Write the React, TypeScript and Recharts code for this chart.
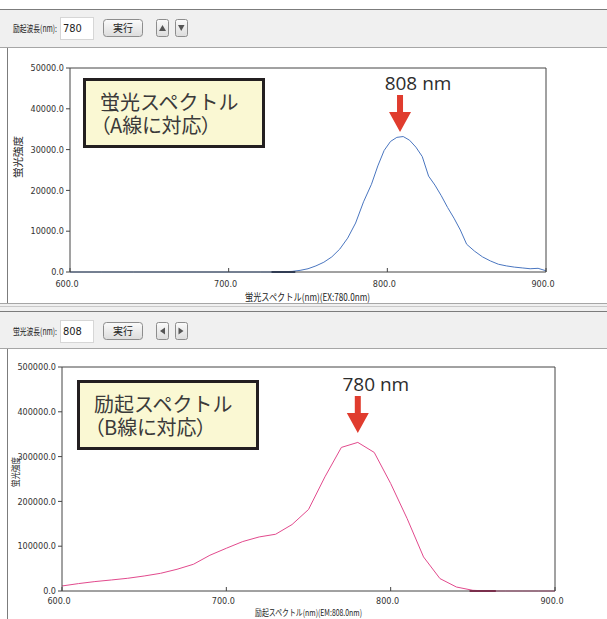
// 蛍光スペクトル / 励起スペクトルの2画面キャプチャを再現
import { LineChart, Line, XAxis, YAxis, ReferenceDot } from 'recharts'

// 蛍光スペクトル (EX:780.0nm)
const fluoWl = [600, 620, 640, 660, 680, 700, 720, 730, 740, 745, 750, 755, 760, 765, 770, 775, 780, 785, 790, 794, 798, 802, 806, 810, 814, 818, 822, 826, 830, 834, 838, 842, 846, 850, 855, 860, 865, 870, 875, 880, 885, 890, 895, 900]
const fluoVal = [0, 0, 0, 0, 0, 0, 0, 0, 150, 400, 800, 1500, 2400, 3700, 5600, 8300, 12000, 17200, 21500, 26000, 29800, 32000, 33000, 33200, 32300, 30600, 28300, 23500, 21300, 18700, 15800, 13200, 10300, 6800, 5100, 3700, 2700, 1900, 1500, 1200, 1000, 800, 900, 300]
// 暗色で重なっている区間
const fluoBaseWl = [727, 742]
const fluoBaseVal = [0, 0]

// 励起スペクトル (EM:808.0nm)
const exWl = [600, 610, 620, 630, 640, 650, 660, 670, 680, 690, 700, 710, 720, 730, 740, 750, 760, 770, 780, 790, 800, 810, 820, 830, 840, 850, 860, 870, 880, 890, 900]
const exVal = [11200, 16500, 21000, 24600, 28400, 33500, 39500, 48500, 59700, 79800, 95400, 110400, 120700, 126700, 148400, 181900, 254800, 320500, 331700, 309300, 240000, 161800, 76000, 27700, 8900, 1500, 0, 0, 0, 0, 0]
const exBaseWl = [848, 864]
const exBaseVal = [0, 0]

const xTicks = [600, 700, 800, 900]
const fluoYTicks = [0, 10000, 20000, 30000, 40000, 50000]
const exYTicks = [0, 100000, 200000, 300000, 400000, 500000]

const AXIS = '#444'
const RED = '#e03c2e'
const CJK = "'Noto Sans CJK JP', sans-serif"
const NARROW = "'Liberation Sans Narrow', 'DejaVu Sans Condensed', sans-serif"

const toRows = (xs: number[], ys: number[]) => xs.map((wl, i) => ({ wl, v: ys[i] }))

function PeakArrow(props: any) {
  const { cx, cy, text } = props
  return (
    <g>
      <path
        d={`M${cx - 3} ${cy - 37} h6 v17 h8 L${cx} ${cy} L${cx - 11} ${cy - 20} h8 Z`}
        fill={RED}
      />
      <text
        x={cx + 18}
        y={cy - 42}
        textAnchor="middle"
        fontFamily="'Open Sans', 'Noto Sans', sans-serif"
        fontSize={19}
        fill="#2d2d2d"
      >
        {text}
      </text>
    </g>
  )
}

interface PanelProps {
  top: number
  height: number
  margin: { top: number; right: number; bottom: number; left: number }
  yWidth: number
  xHeight: number
  tickGap: number
  rows: { wl: number; v: number }[]
  baseRows: { wl: number; v: number }[]
  yTicks: number[]
  color: string
  baseColor: string
  peakWl: number
  peakVal: number
  peakText: string
}

function SpectrumPanel(p: PanelProps) {
  const yMax = p.yTicks[p.yTicks.length - 1]
  const tickStyle = { fontSize: 9, fill: '#333', fontFamily: NARROW }
  return (
    <div style={{ position: 'absolute', left: 0, top: p.top }}>
      <LineChart width={607} height={p.height} margin={p.margin}>
        <XAxis
          xAxisId="b"
          dataKey="wl"
          type="number"
          domain={[600, 900]}
          ticks={xTicks}
          height={p.xHeight}
          tickSize={-4}
          tickMargin={p.tickGap}
          tickFormatter={(v: number) => v.toFixed(1)}
          tick={{ ...tickStyle, dx: -3 }}
          stroke={AXIS}
          tickLine={{ stroke: AXIS }}
        />
        <XAxis
          xAxisId="t"
          orientation="top"
          type="number"
          domain={[600, 900]}
          ticks={xTicks}
          height={1}
          tickSize={-4}
          tick={false}
          stroke={AXIS}
          tickLine={{ stroke: AXIS }}
        />
        <YAxis
          yAxisId="l"
          type="number"
          domain={[0, yMax]}
          ticks={p.yTicks}
          width={p.yWidth}
          tickSize={4}
          tickMargin={2}
          tickFormatter={(v: number) => v.toFixed(1)}
          tick={tickStyle}
          stroke={AXIS}
          tickLine={{ stroke: AXIS }}
        />
        <YAxis
          yAxisId="r"
          orientation="right"
          type="number"
          domain={[0, yMax]}
          ticks={p.yTicks}
          width={1}
          tickSize={-4}
          tick={false}
          stroke={AXIS}
          tickLine={{ stroke: AXIS }}
        />
        <Line
          xAxisId="b"
          yAxisId="l"
          data={p.rows}
          dataKey="v"
          type="linear"
          stroke={p.color}
          strokeWidth={1}
          dot={false}
          isAnimationActive={false}
        />
        <Line
          xAxisId="b"
          yAxisId="l"
          data={p.baseRows}
          dataKey="v"
          type="linear"
          stroke={p.baseColor}
          strokeWidth={2}
          dot={false}
          isAnimationActive={false}
        />
        <ReferenceDot
          xAxisId="b"
          yAxisId="l"
          x={p.peakWl}
          y={p.peakVal}
          shape={(s: any) => <PeakArrow {...s} text={p.peakText} />}
        />
      </LineChart>
    </div>
  )
}

function HeaderBar({ y, label, value, arrows }: { y: number; label: string; value: string; arrows: 'ud' | 'lr' }) {
  const tri1 = arrows === 'ud' ? 'M159 31 L162.5 25 L166 31 Z' : 'M165 24.5 L165 31.5 L160 28 Z'
  const tri2 = arrows === 'ud' ? 'M178 25 L184.5 25 L181.25 31 Z' : 'M178.5 24.5 L178.5 31.5 L183.5 28 Z'
  return (
    <g transform={`translate(0 ${y})`}>
      <text x={13} y={32} fontFamily={CJK} fontSize={9.5} fill="#222" textLength={44} lengthAdjust="spacingAndGlyphs">
        {label}
      </text>
      <rect x={60.5} y={17.5} width={33} height={22} fill="#fff" stroke="#d6d6d6" />
      <text x={63} y={32} fontFamily={NARROW} fontSize={11} fill="#222">
        {value}
      </text>
      <rect x={103.5} y={19.5} width={39} height={17} rx={3} fill="url(#btn)" stroke="#8d8d8d" />
      <text x={123} y={32} textAnchor="middle" fontFamily={CJK} fontSize={10} fill="#222">
        実行
      </text>
      <rect x={156.5} y={19.5} width={12} height={17} rx={2} fill="url(#btn)" stroke="#8d8d8d" />
      <rect x={175.5} y={19.5} width={12} height={17} rx={2} fill="url(#btn)" stroke="#8d8d8d" />
      <path d={tri1} fill="#555" />
      <path d={tri2} fill="#555" />
    </g>
  )
}

function NoteBox({ left, top, line1, line2 }: { left: number; top: number; line1: string; line2: string }) {
  return (
    <div
      style={{
        position: 'absolute',
        left,
        top,
        width: 182,
        height: 70,
        boxSizing: 'border-box',
        border: '3px solid #231f20',
        background: '#faf8d3',
        padding: '9px 0 0 14px',
        fontFamily: CJK,
        fontSize: 20,
        lineHeight: '23px',
        color: '#3a3a3a',
        whiteSpace: 'nowrap',
      }}
    >
      <div>{line1}</div>
      <div style={{ fontFeatureSettings: '"palt"' }}>{line2}</div>
    </div>
  )
}

export default function App() {
  return (
    <div style={{ position: 'absolute', left: 0, top: 0, width: 607, height: 619, overflow: 'hidden', background: '#fff' }}>
      <svg width={607} height={619} style={{ position: 'absolute', left: 0, top: 0 }}>
        <defs>
          <linearGradient id="btn" x1="0" y1="0" x2="0" y2="1">
            <stop offset="0" stopColor="#fbfbfb" />
            <stop offset="1" stopColor="#dcdcdc" />
          </linearGradient>
        </defs>
        <rect x={0} y={0} width={607} height={619} fill="#fff" />
        {/* 上段ウィンドウ */}
        <rect x={0} y={10} width={607} height={37} fill="#f0f0f0" />
        <line x1={0} x2={607} y1={9.5} y2={9.5} stroke="#7c7c7c" />
        <line x1={0} x2={607} y1={47.5} y2={47.5} stroke="#a6a6a6" />
        <line x1={7.5} x2={7.5} y1={48} y2={303} stroke="#7c7c7c" />
        <HeaderBar y={0} label="励起波長(nm):" value="780" arrows="ud" />
        {/* 下段ウィンドウ */}
        <rect x={0} y={303} width={607} height={45} fill="#f0f0f0" />
        <line x1={0} x2={607} y1={303.5} y2={303.5} stroke="#a6a6a6" />
        <line x1={0} x2={607} y1={306.5} y2={306.5} stroke="#c8c8c8" />
        <line x1={0} x2={607} y1={311.5} y2={311.5} stroke="#7c7c7c" />
        <line x1={0} x2={607} y1={348.5} y2={348.5} stroke="#a6a6a6" />
        <line x1={7.5} x2={7.5} y1={349} y2={619} stroke="#7c7c7c" />
        <HeaderBar y={303} label="蛍光波長(nm):" value="808" arrows="lr" />
        {/* 軸タイトル */}
        <text transform="translate(22 157) rotate(-90)" textAnchor="middle" fontFamily={CJK} fontSize={10} fill="#222" textLength={42} lengthAdjust="spacingAndGlyphs">
          蛍光強度
        </text>
        <text x={307.5} y={301} textAnchor="middle" fontFamily={CJK} fontSize={10} fill="#222" textLength={125} lengthAdjust="spacingAndGlyphs">
          蛍光スペクトル(nm)(EX:780.0nm)
        </text>
        <text transform="translate(19 472) rotate(-90)" textAnchor="middle" fontFamily={CJK} fontSize={9} fill="#222" textLength={30} lengthAdjust="spacingAndGlyphs">
          蛍光強度
        </text>
        <text x={308.5} y={616} textAnchor="middle" fontFamily={CJK} fontSize={9} fill="#222" textLength={107} lengthAdjust="spacingAndGlyphs">
          励起スペクトル(nm)(EM:808.0nm)
        </text>
      </svg>

      <SpectrumPanel
        top={0}
        height={303}
        margin={{ top: 67, right: 60, bottom: 0, left: 0 }}
        yWidth={70}
        xHeight={31}
        tickGap={13}
        rows={toRows(fluoWl, fluoVal)}
        baseRows={toRows(fluoBaseWl, fluoBaseVal)}
        yTicks={fluoYTicks}
        color="#4a76c0"
        baseColor="#1f3563"
        peakWl={808}
        peakVal={34300}
        peakText="808 nm"
      />
      <SpectrumPanel
        top={348}
        height={271}
        margin={{ top: 18, right: 51, bottom: 0, left: 0 }}
        yWidth={62}
        xHeight={28}
        tickGap={11}
        rows={toRows(exWl, exVal)}
        baseRows={toRows(exBaseWl, exBaseVal)}
        yTicks={exYTicks}
        color="#e24a8d"
        baseColor="#b01a55"
        peakWl={780}
        peakVal={352700}
        peakText="780 nm"
      />

      <NoteBox left={83} top={78} line1="蛍光スペクトル" line2="（A線に対応）" />
      <NoteBox left={77} top={380} line1="励起スペクトル" line2="（B線に対応）" />
    </div>
  )
}
